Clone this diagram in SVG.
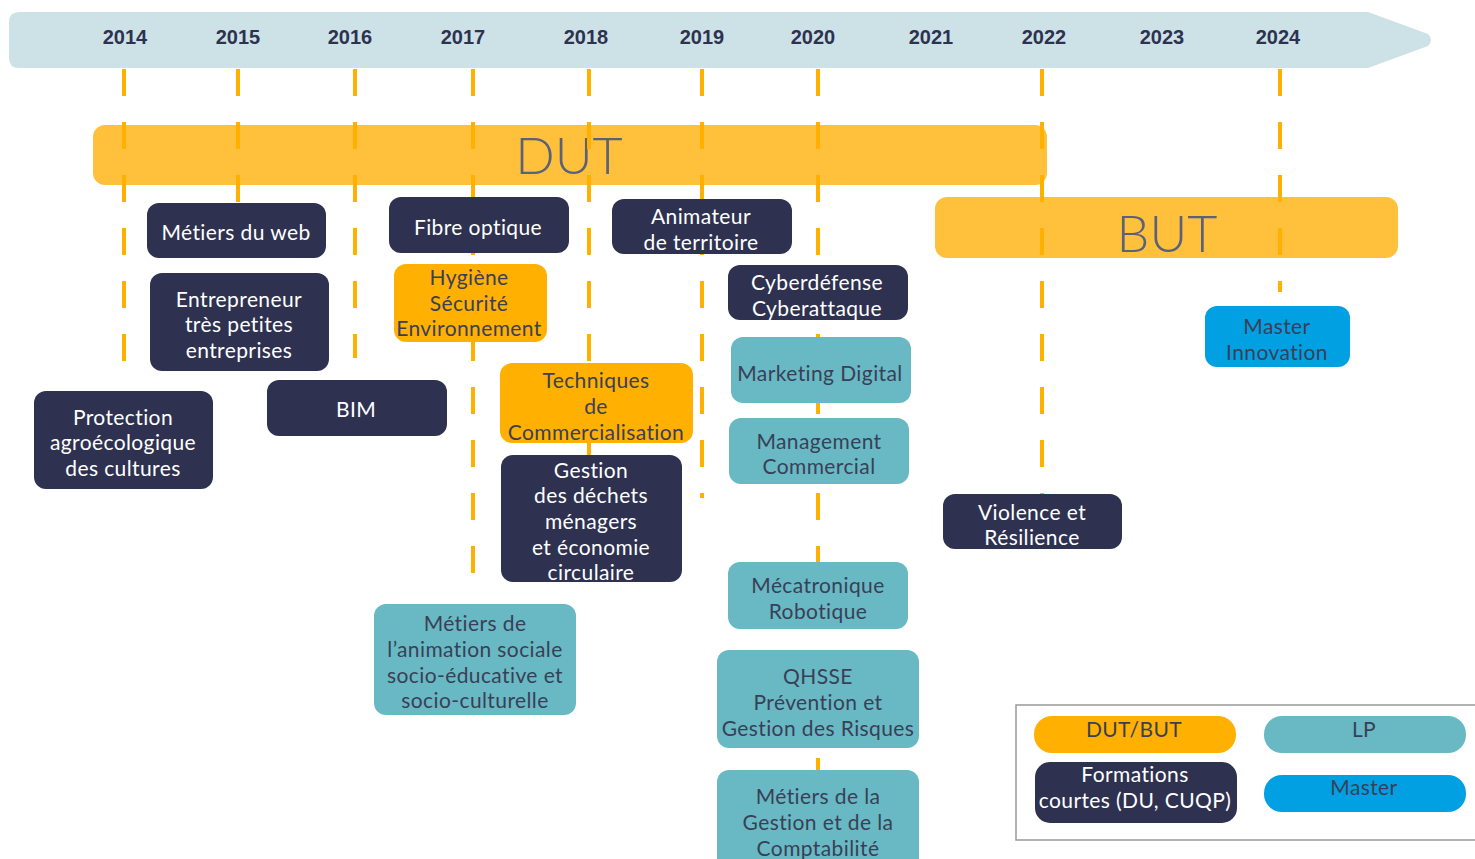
<svg xmlns="http://www.w3.org/2000/svg" width="1475" height="859" viewBox="0 0 1475 859">
<style>
.yr{font-family:"Liberation Sans",Arial,sans-serif;font-weight:bold;font-size:20px;fill:#2E3250;text-anchor:middle}
.t{font-family:Lato,"Open Sans",sans-serif;font-size:21px;letter-spacing:0.4px;text-anchor:middle}
.w{fill:#FFFFFF}
.d{fill:#3A3F58}
.dark{fill:#2E3250}
.or{fill:#FFB000}
.teal{fill:#68B9C3}
.blue{fill:#00A0E3}
.big{font-family:Lato,"Open Sans",sans-serif;font-weight:300;font-size:52px;fill:#5B6178;text-anchor:middle}
.dash{stroke:#FFB000;stroke-width:4;stroke-dasharray:27 26;fill:none}
</style>
<rect width="1475" height="859" fill="#FFFFFF"/>
<g id="timeline">
<path d="M19 12 H1368 L1428 34 Q1434 40 1428 46 L1368 68 H19 Q9 68 9 58 V22 Q9 12 19 12 Z" fill="#CDE2E7"/>
<text class="yr" x="125" y="44">2014</text>
<text class="yr" x="238" y="44">2015</text>
<text class="yr" x="350" y="44">2016</text>
<text class="yr" x="463" y="44">2017</text>
<text class="yr" x="586" y="44">2018</text>
<text class="yr" x="702" y="44">2019</text>
<text class="yr" x="813" y="44">2020</text>
<text class="yr" x="931" y="44">2021</text>
<text class="yr" x="1044" y="44">2022</text>
<text class="yr" x="1162" y="44">2023</text>
<text class="yr" x="1278" y="44">2024</text>
</g>
<g id="dut">
<rect x="93" y="125" width="954" height="60" rx="12" fill="#FFC13B"/>
<text class="big" x="569" y="174">DUT</text>
</g>
<g id="but">
<rect x="935" y="197" width="463" height="61" rx="12" fill="#FFC13B"/>
<text class="big" x="1167" y="252">BUT</text>
</g>
<g id="connectors">
<line class="dash" x1="124" y1="69" x2="124" y2="362"/>
<line class="dash" x1="238" y1="69" x2="238" y2="266"/>
<line class="dash" x1="355" y1="69" x2="355" y2="358"/>
<line class="dash" x1="473" y1="69" x2="473" y2="577"/>
<line class="dash" x1="589" y1="69" x2="589" y2="455"/>
<line class="dash" x1="702" y1="69" x2="702" y2="498"/>
<line class="dash" x1="818" y1="69" x2="818" y2="770"/>
<line class="dash" x1="1042" y1="69" x2="1042" y2="494"/>
<line class="dash" x1="1280" y1="69" x2="1280" y2="292"/>
</g>
<g id="n-web"><rect class="dark" x="147" y="203" width="179" height="55" rx="12"/><text class="t w" x="236" y="240">Métiers du web</text></g>
<g id="n-entrepreneur"><rect class="dark" x="150" y="273" width="179" height="98" rx="12"/><text class="t w" x="239" y="307">Entrepreneur</text><text class="t w" x="239" y="332">très petites</text><text class="t w" x="239" y="358">entreprises</text></g>
<g id="n-protection"><rect class="dark" x="34" y="391" width="179" height="98" rx="12"/><text class="t w" x="123" y="425">Protection</text><text class="t w" x="123" y="450">agroécologique</text><text class="t w" x="123" y="476">des cultures</text></g>
<g id="n-bim"><rect class="dark" x="267" y="380" width="180" height="56" rx="12"/><text class="t w" x="356" y="417">BIM</text></g>
<g id="n-fibre"><rect class="dark" x="389" y="197" width="180" height="56" rx="12"/><text class="t w" x="478" y="235">Fibre optique</text></g>
<g id="n-hse"><rect class="or" x="394" y="264" width="153" height="78" rx="12"/><text class="t d" x="469" y="285">Hygiène</text><text class="t d" x="469" y="311">Sécurité</text><text class="t d" x="469" y="336">Environnement</text></g>
<g id="n-tc"><rect class="or" x="500" y="363" width="193" height="80" rx="12"/><text class="t d" x="596" y="388">Techniques</text><text class="t d" x="596" y="414">de</text><text class="t d" x="596" y="440">Commercialisation</text></g>
<g id="n-dechets"><rect class="dark" x="501" y="455" width="181" height="127" rx="12"/><text class="t w" x="591" y="478">Gestion</text><text class="t w" x="591" y="503">des déchets</text><text class="t w" x="591" y="529">ménagers</text><text class="t w" x="591" y="555">et économie</text><text class="t w" x="591" y="580">circulaire</text></g>
<g id="n-animation"><rect class="teal" x="374" y="604" width="202" height="111" rx="12"/><text class="t d" x="475" y="631">Métiers de</text><text class="t d" x="475" y="657">l’animation sociale</text><text class="t d" x="475" y="683">socio-éducative et</text><text class="t d" x="475" y="708">socio-culturelle</text></g>
<g id="n-animateur"><rect class="dark" x="612" y="199" width="180" height="55" rx="12"/><text class="t w" x="701" y="224">Animateur</text><text class="t w" x="701" y="250">de territoire</text></g>
<g id="n-cyber"><rect class="dark" x="728" y="265" width="180" height="55" rx="12"/><text class="t w" x="817" y="290">Cyberdéfense</text><text class="t w" x="817" y="316">Cyberattaque</text></g>
<g id="n-marketing"><rect class="teal" x="731" y="337" width="180" height="66" rx="12"/><text class="t d" x="820" y="381">Marketing Digital</text></g>
<g id="n-management"><rect class="teal" x="729" y="418" width="180" height="66" rx="12"/><text class="t d" x="819" y="449">Management</text><text class="t d" x="819" y="474">Commercial</text></g>
<g id="n-meca"><rect class="teal" x="728" y="562" width="180" height="67" rx="12"/><text class="t d" x="818" y="593">Mécatronique</text><text class="t d" x="818" y="619">Robotique</text></g>
<g id="n-qhsse"><rect class="teal" x="717" y="650" width="202" height="98" rx="12"/><text class="t d" x="818" y="684">QHSSE</text><text class="t d" x="818" y="710">Prévention et</text><text class="t d" x="818" y="736">Gestion des Risques</text></g>
<g id="n-compta"><rect class="teal" x="717" y="770" width="202" height="110" rx="12"/><text class="t d" x="818" y="804">Métiers de la</text><text class="t d" x="818" y="830">Gestion et de la</text><text class="t d" x="818" y="856">Comptabilité</text></g>
<g id="n-violence"><rect class="dark" x="943" y="494" width="179" height="55" rx="12"/><text class="t w" x="1032" y="520">Violence et</text><text class="t w" x="1032" y="545">Résilience</text></g>
<g id="n-master"><rect class="blue" x="1205" y="306" width="145" height="61" rx="12"/><text class="t d" x="1277" y="334">Master</text><text class="t d" x="1277" y="360">Innovation</text></g>
<g id="legend">
<rect x="1016" y="705" width="470" height="135" fill="#FFFFFF" stroke="#999999" stroke-width="1.5"/>
<rect class="or" x="1034" y="716" width="202" height="37" rx="18"/><text class="t d" x="1134" y="737">DUT/BUT</text>
<rect class="teal" x="1264" y="716" width="202" height="37" rx="18"/><text class="t d" x="1364" y="737">LP</text>
<rect class="dark" x="1035" y="762" width="202" height="61" rx="15"/><text class="t w" x="1135" y="782">Formations</text><text class="t w" x="1135" y="808">courtes (DU, CUQP)</text>
<rect class="blue" x="1264" y="775" width="202" height="37" rx="18"/><text class="t d" x="1364" y="795">Master</text>
</g>
</svg>
